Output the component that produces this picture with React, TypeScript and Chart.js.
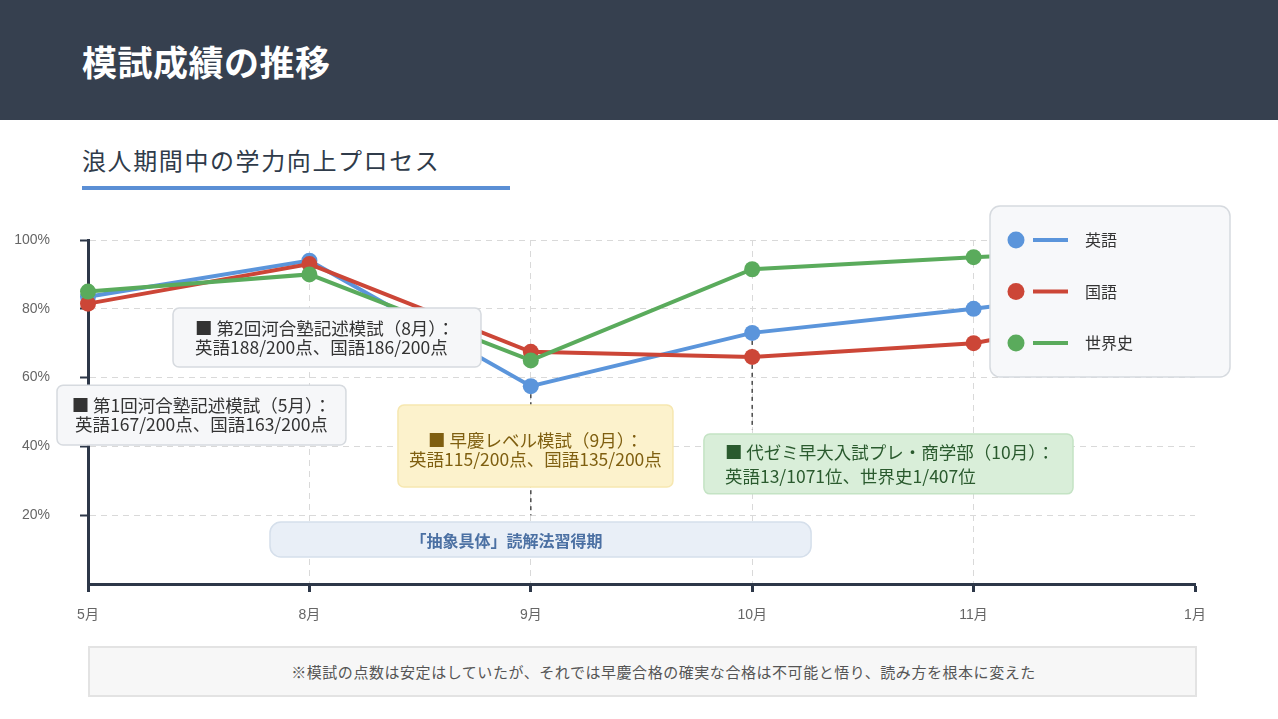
import React, { useEffect, useRef } from "react";
import { Chart, registerables } from "chart.js";

Chart.register(...registerables);

// ---------- data ----------
const months = ["5月", "8月", "9月", "10月", "11月", "1月"];
const english = [83.5, 94, 57.5, 73, 80, 88];
const japanese = [81.5, 93, 67.5, 66, 70, 82];
const worldHistory = [85, 90, 65, 91.5, 95, 98];
const seriesNames = ["英語", "国語", "世界史"];
const seriesColors = ["#5b95db", "#cc4637", "#5aab5c"];
const yTickValues = [20, 40, 60, 80, 100];

const noteLines1 = ["■ 第1回河合塾記述模試（5月）：", "英語167/200点、国語163/200点"];
const noteLines2 = ["■ 第2回河合塾記述模試（8月）：", "英語188/200点、国語186/200点"];
const noteLines3 = ["■ 早慶レベル模試（9月）：", "英語115/200点、国語135/200点"];
const noteLines4 = ["■ 代ゼミ早大入試プレ・商学部（10月）：", "英語13/1071位、世界史1/407位"];
const bandText = "「抽象具体」読解法習得期";
const footerText = "※模試の点数は安定はしていたが、それでは早慶合格の確実な合格は不可能と悟り、読み方を根本に変えた";

// annotation boxes anchored in scale units (category index / percent)
const notes = [
  { lines: noteLines1, x0: -0.14, x1: 1.165, yTop: 57.8, yBottom: 40.4, bg: "#f6f7f9", border: "#d6dadf", color: "#333333", align: "center", gap: 19, pad: 0, dy: 0 },
  { lines: noteLines2, x0: 0.384, x1: 1.775, yTop: 80.2, yBottom: 63.1, bg: "#f6f7f9", border: "#d6dadf", color: "#333333", align: "left", gap: 19, pad: 22, dy: 0 },
  { lines: noteLines3, x0: 1.40, x1: 2.642, yTop: 52.0, yBottom: 28.2, bg: "#fcf2cc", border: "#f6e7b0", color: "#7f5f10", align: "center", gap: 19, pad: 0, dy: 4 },
  { lines: noteLines4, x0: 2.782, x1: 4.449, yTop: 43.6, yBottom: 26.2, bg: "#d9eed9", border: "#c4e3c4", color: "#2a5a2e", align: "left", gap: 24, pad: 21, dy: 0 },
];
const band = { x0: 0.822, x1: 3.266, yTop: 18.0, yBottom: 7.85, textX: 1.89 };
const connectors = [
  { index: 2, from: 57.5, to: 20 },
  { index: 3, from: 73, to: 45 },
];

const FONT = "'Liberation Sans', 'Noto Sans CJK JP', sans-serif";
const JP_FONT = "'Noto Sans CJK JP', 'Liberation Sans', sans-serif";

function rr(ctx: CanvasRenderingContext2D, x: number, y: number, w: number, h: number, r: number) {
  ctx.beginPath();
  ctx.moveTo(x + r, y);
  ctx.lineTo(x + w - r, y);
  ctx.arcTo(x + w, y, x + w, y + r, r);
  ctx.lineTo(x + w, y + h - r);
  ctx.arcTo(x + w, y + h, x + w - r, y + h, r);
  ctx.lineTo(x + r, y + h);
  ctx.arcTo(x, y + h, x, y + h - r, r);
  ctx.lineTo(x, y + r);
  ctx.arcTo(x, y, x + r, y, r);
  ctx.closePath();
}

const overlayPlugin = {
  id: "overlay",
  beforeDatasetsDraw(chart: any) {
    const { ctx, scales } = chart;
    const xs = scales.x, ys = scales.y;
    ctx.save();
    ctx.strokeStyle = "#4a4a4a";
    ctx.lineWidth = 1.5;
    ctx.setLineDash([4, 4]);
    connectors.forEach((c) => {
      const x = xs.getPixelForValue(c.index);
      ctx.beginPath();
      ctx.moveTo(x, ys.getPixelForValue(c.from));
      ctx.lineTo(x, ys.getPixelForValue(c.to));
      ctx.stroke();
    });
    ctx.restore();
  },
  afterDatasetsDraw(chart: any) {
    const { ctx, scales, chartArea } = chart;
    const xs = scales.x, ys = scales.y;
    ctx.save();
    // band
    {
      const l = xs.getPixelForValue(band.x0), r = xs.getPixelForValue(band.x1);
      const t = ys.getPixelForValue(band.yTop), b = ys.getPixelForValue(band.yBottom);
      rr(ctx, l, t, r - l, b - t, 11);
      ctx.fillStyle = "#e9eff7";
      ctx.fill();
      ctx.strokeStyle = "#d5dfeb";
      ctx.lineWidth = 1.5;
      ctx.stroke();
      ctx.fillStyle = "#4b70a3";
      ctx.font = `bold 16px ${JP_FONT}`;
      ctx.textAlign = "center";
      ctx.textBaseline = "middle";
      ctx.fillText(bandText, xs.getPixelForValue(band.textX), (t + b) / 2 + 1);
    }
    // note boxes
    notes.forEach((n) => {
      const l = xs.getPixelForValue(n.x0), r = xs.getPixelForValue(n.x1);
      const t = ys.getPixelForValue(n.yTop), b = ys.getPixelForValue(n.yBottom);
      rr(ctx, l, t, r - l, b - t, 6);
      ctx.fillStyle = n.bg;
      ctx.fill();
      ctx.strokeStyle = n.border;
      ctx.lineWidth = 1.5;
      ctx.stroke();
      ctx.fillStyle = n.color;
      ctx.font = `17.5px ${JP_FONT}`;
      ctx.textBaseline = "middle";
      ctx.textAlign = n.align as CanvasTextAlign;
      const cx = n.align === "center" ? (l + r) / 2 : l + n.pad;
      const cy = (t + b) / 2 + n.dy;
      n.lines.forEach((line, i) => {
        ctx.fillText(line, cx, cy + (i - (n.lines.length - 1) / 2) * n.gap);
      });
    });
    // legend
    {
      const lx = chartArea.right - 205, ly = chartArea.top - 34, lw = 240, lh = 171;
      rr(ctx, lx, ly, lw, lh, 10);
      ctx.fillStyle = "#f7f8fa";
      ctx.fill();
      ctx.strokeStyle = "#d6dadf";
      ctx.lineWidth = 1.5;
      ctx.stroke();
      chart.data.datasets.forEach((ds: any, i: number) => {
        const y = ly + 34 + i * 51.5;
        ctx.fillStyle = ds.borderColor;
        ctx.beginPath();
        ctx.arc(lx + 26, y, 8.5, 0, Math.PI * 2);
        ctx.fill();
        ctx.strokeStyle = ds.borderColor;
        ctx.lineWidth = 4;
        ctx.beginPath();
        ctx.moveTo(lx + 43, y);
        ctx.lineTo(lx + 78, y);
        ctx.stroke();
        ctx.fillStyle = "#333333";
        ctx.font = `16px ${JP_FONT}`;
        ctx.textAlign = "left";
        ctx.textBaseline = "middle";
        ctx.fillText(ds.label, lx + 95, y);
      });
    }
    ctx.restore();
  },
};

export default function App() {
  const canvasRef = useRef<HTMLCanvasElement | null>(null);

  useEffect(() => {
    document.body.style.margin = "0";
    const canvas = canvasRef.current;
    if (!canvas) return;
    const seriesData = [english, japanese, worldHistory];
    const orders = [2, 1, 0];
    const chart = new Chart(canvas, {
      type: "line",
      data: {
        labels: months,
        datasets: seriesData.map((d, i) => ({
          label: seriesNames[i],
          data: d,
          borderColor: seriesColors[i],
          backgroundColor: seriesColors[i],
          pointBackgroundColor: seriesColors[i],
          pointBorderColor: seriesColors[i],
          pointBorderWidth: 0,
          pointRadius: 8,
          borderWidth: 4,
          tension: 0,
          fill: false,
          order: orders[i],
        })),
      },
      options: {
        responsive: false,
        animation: false,
        events: [],
        layout: { padding: { top: 240, right: 83, left: 0, bottom: 0 } },
        plugins: {
          legend: { display: false },
          tooltip: { enabled: false },
          title: { display: false },
        },
        scales: {
          x: {
            type: "category",
            offset: false,
            afterFit: (s: any) => { s.height = 135; },
            grid: {
              color: (c: any) => (c.index === 0 || c.index === months.length - 1 ? "rgba(0,0,0,0)" : "#d9d9d9"),
              lineWidth: 1,
              tickColor: "#2d3748",
              tickWidth: 3,
              tickLength: 8,
            },
            border: { display: true, color: "#2d3748", width: 3, dash: [6, 5] },
            ticks: {
              color: "#666666",
              font: { size: 14, family: FONT },
              padding: 15,
              maxRotation: 0,
            },
          },
          y: {
            min: 0,
            max: 100,
            afterFit: (s: any) => { s.width = 88; },
            afterBuildTicks: (s: any) => { s.ticks = [0, ...yTickValues].map((v) => ({ value: v })); },
            grid: {
              color: (c: any) => (c.tick && c.tick.value === 0 ? "rgba(0,0,0,0)" : "#d9d9d9"),
              lineWidth: 1,
              tickColor: (c: any) => (c.tick && c.tick.value === 0 ? "rgba(0,0,0,0)" : "#2d3748"),
              tickWidth: 2,
              tickLength: 8,
            },
            border: { display: true, color: "#2d3748", width: 3, dash: [6, 5] },
            ticks: {
              color: "#666666",
              font: { size: 14, family: FONT },
              padding: 30,
              callback: (v: any) => (v === 0 ? "" : `${v}%`),
            },
          },
        },
      },
      plugins: [overlayPlugin],
    } as any);
    return () => chart.destroy();
  }, []);

  return (
    <div style={{ position: "absolute", left: 0, top: 0, width: 1278, height: 719, overflow: "hidden", background: "#ffffff", fontFamily: JP_FONT }}>
      <div style={{ position: "absolute", left: 0, top: 0, width: 1278, height: 120, background: "#36404f" }}>
        <div style={{ position: "absolute", left: 82, top: 36, fontSize: 35, lineHeight: "50px", fontWeight: 700, color: "#ffffff", letterSpacing: 0.5 }}>
          模試成績の推移
        </div>
      </div>
      <div style={{ position: "absolute", left: 82, top: 142, fontSize: 24, lineHeight: "36px", color: "#2f3b4a", letterSpacing: 1.6 }}>
        浪人期間中の学力向上プロセス
      </div>
      <div style={{ position: "absolute", left: 82, top: 186, width: 428, height: 4, background: "#5b8fd5" }} />
      <div style={{ position: "absolute", left: 88, top: 646, width: 1109, height: 51, boxSizing: "border-box", background: "#f7f7f7", border: "2px solid #e3e3e3", display: "flex", alignItems: "center", justifyContent: "center", fontSize: 15, color: "#555555", letterSpacing: 0.55, paddingLeft: 42 }}>
        {footerText}
      </div>
      <canvas ref={canvasRef} width={1278} height={719} style={{ position: "absolute", left: 0, top: 0, width: 1278, height: 719 }} />
    </div>
  );
}
